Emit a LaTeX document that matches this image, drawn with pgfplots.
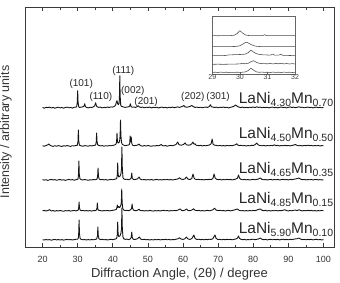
\documentclass[border=0pt]{standalone}
\usepackage{fontspec}
\setmainfont{Liberation Sans}
\usepackage{pgfplots}
\usepackage{pgfplotstable}
\pgfplotsset{compat=1.18}

% XRD patterns, intensity in arbitrary units (each pattern stacked by its offset)
% LaNi4.30Mn0.70
\pgfplotstableread[row sep=\\]{x I\\
20 .2\\20.5 -.5\\21 .4\\21.5 0\\22 .6\\22.5 -.3\\23 .3\\23.5 -.6\\24 .1\\24.5 .5\\25 -.2\\25.5 .3\\26 -.5\\26.5 .2\\27 .6\\27.5 -.1\\28 .3\\28.5 -.4\\29 .4\\29.5 .6\\
29.7 .8\\29.88 5\\30 17\\30.12 5.5\\30.3 1\\30.5 .2\\31 .6\\31.5 .9\\31.8 1.5\\32 4\\32.2 1.2\\32.5 .3\\33 -.2\\33.5 .5\\34 .2\\34.5 .9\\
34.85 1.8\\35.1 5\\35.35 2\\35.5 1\\36 .3\\36.5 .6\\37 -.2\\37.5 .4\\38 .1\\38.5 .7\\39 .2\\39.5 .8\\40 .6\\40.5 1.5\\
40.8 2.5\\41 5.5\\41.2 7\\41.4 4\\41.6 3\\41.8 4.5\\41.9 12\\42 32\\42.1 12\\42.25 3\\42.4 1.5\\43 .8\\43.5 .3\\44 .6\\44.5 .9\\
44.8 1.5\\45 4\\45.2 1.2\\45.5 .4\\46 .7\\46.5 .3\\47 1.2\\47.25 2\\47.5 .9\\48 .3\\48.5 .6\\49 -.1\\49.5 .5\\50 .2\\50.5 .6\\51 -.2\\51.5 .4\\52 .1\\52.5 .5\\53 -.3\\53.5 .3\\
54 .6\\54.5 0\\55 .4\\55.5 -.2\\56 .5\\56.5 .1\\57 .6\\57.5 0\\58 .4\\58.5 .8\\59 .3\\59.5 .9\\60 1.6\\60.25 2.3\\60.5 1\\61 .4\\61.5 .8\\62 1.2\\62.5 2.2\\63 .9\\63.5 .3\\
64 .6\\64.5 .1\\65 .5\\65.5 -.1\\66 .4\\66.5 .7\\67 .3\\67.5 1.2\\67.8 3\\68.1 1\\68.5 .6\\69 .2\\69.5 .6\\70 -.1\\70.5 .5\\71 .2\\71.5 .7\\72 .1\\72.5 .5\\73 -.2\\73.5 .4\\
74 .8\\74.5 1.4\\75 2.8\\75.5 1.2\\76 .5\\76.5 .1\\77 .6\\77.5 -.1\\78 .4\\78.5 0\\79 .5\\79.5 .2\\80 .7\\80.5 .1\\81 .9\\81.5 .3\\82 .6\\82.5 -.1\\83 .4\\83.5 .1\\
84 .5\\84.5 -.2\\85 .3\\85.5 .6\\86 0\\86.5 .4\\87 -.2\\87.5 .3\\88 .7\\88.5 .1\\89 .5\\89.5 -.2\\90 .4\\90.5 .8\\91 .2\\91.5 .6\\92 0\\92.5 .4\\93 .9\\93.5 .3\\
94 .5\\94.5 -.1\\95 .3\\95.5 .6\\96 .1\\96.5 .5\\97 -.2\\97.5 .3\\98 .6\\98.5 0\\99 .4\\99.5 -.1\\100 .3\\
}\tA
% LaNi4.50Mn0.50
\pgfplotstableread[row sep=\\]{x I\\
20 .3\\20.5 -.2\\21 .5\\21.5 1.2\\21.8 2\\22.1 .9\\22.5 .1\\23 -.4\\23.5 .3\\24 -.2\\24.5 .4\\25 0\\25.5 -.5\\26 .3\\26.5 -.1\\27 .5\\27.5 0\\28 -.4\\28.5 .3\\29 .1\\29.5 .5\\
29.9 .7\\30.08 4.5\\30.2 16\\30.32 5\\30.5 .8\\31 .2\\31.5 -.3\\32 .4\\32.5 .1\\33 -.2\\33.5 .4\\34 0\\34.5 .5\\35 .8\\
35.15 1.5\\35.28 4\\35.4 13\\35.52 4.5\\35.7 1.2\\36 .6\\36.5 .1\\37 .4\\37.5 -.2\\38 .3\\38.5 0\\39 .5\\39.5 .2\\40 .6\\40.5 1\\
40.9 1.8\\41.08 4\\41.2 13\\41.32 5\\41.5 3\\41.8 3.5\\41.95 5\\42.08 10\\42.2 26\\42.32 10\\42.5 3.5\\42.7 1.8\\43 1\\43.5 .4\\44 .7\\44.5 1\\
44.8 1.8\\44.95 10\\45.1 4\\45.25 9\\45.4 3\\45.6 1\\46 .3\\46.5 .6\\47 .8\\47.5 2\\47.8 .6\\48 .3\\48.5 -.1\\49 .4\\49.5 0\\50 .5\\50.5 .1\\51 -.3\\51.5 .3\\52 0\\52.5 .5\\
53 .2\\53.5 .9\\53.8 1.6\\54.1 .5\\54.5 .1\\55 .5\\55.5 -.2\\56 .3\\56.5 .6\\57 .2\\57.5 .8\\58 1.5\\58.5 4\\58.8 1.6\\59 1.2\\59.5 .8\\60 1.3\\60.3 2\\60.6 3.2\\60.9 1.3\\
61.5 .8\\62 1\\62.5 2.2\\62.8 4\\63.1 1.8\\63.4 2.3\\63.7 .9\\64 .6\\64.5 .3\\65 .7\\65.5 .1\\66 .5\\66.5 .2\\67 .6\\67.5 1\\68 2.2\\68.3 7\\68.55 2\\68.8 1\\69.5 .6\\
70 .2\\70.5 .6\\71 .1\\71.5 .5\\72 0\\72.5 .6\\73 .2\\73.5 .5\\74 .3\\74.5 .8\\75 1.4\\75.3 2.2\\75.6 1\\76 .4\\76.5 .7\\77 .2\\77.5 .5\\78 0\\78.5 .4\\79 .2\\79.5 .7\\
80 .5\\80.5 1.3\\81 3\\81.3 1.5\\81.6 .8\\82 .5\\82.5 .2\\83 .6\\83.5 .1\\84 .5\\84.5 .2\\85 .6\\85.5 .4\\86 1.1\\86.5 .3\\87 .6\\87.5 .1\\88 .5\\88.5 .2\\89 .7\\89.5 .3\\
90 .5\\90.5 .1\\91 .6\\91.5 .9\\92 1.5\\92.5 .6\\93 .2\\93.5 .5\\94 .1\\94.5 .6\\95 .3\\95.5 .8\\96 .4\\96.5 .6\\97 .1\\97.5 .5\\98 .2\\98.5 .6\\99 0\\99.5 .4\\100 .2\\
}\tB
% LaNi4.65Mn0.35
\pgfplotstableread[row sep=\\]{x I\\
20 .4\\20.5 -.1\\21 .3\\21.5 -.4\\22 .2\\22.5 .6\\23 0\\23.5 .4\\24 -.3\\24.5 .2\\25 .5\\25.5 -.1\\26 .3\\26.5 -.4\\27 .2\\27.5 .6\\28 .1\\28.5 .4\\29 -.2\\29.5 .3\\30 .7\\
30.1 1.2\\30.23 5\\30.35 19\\30.47 5.5\\30.65 1.2\\31 .4\\31.5 0\\32 .5\\32.5 .1\\33 -.3\\33.5 .3\\34 0\\34.5 .5\\35 .2\\35.5 .9\\
35.68 3.5\\35.8 12\\35.92 4\\36.1 1\\36.5 .3\\37 .6\\37.5 .1\\38 .4\\38.5 -.1\\39 .3\\39.5 .6\\40 .2\\40.5 .7\\41 1.2\\
41.15 2\\41.28 5\\41.4 17\\41.52 5.5\\41.7 3\\41.9 3.5\\42.1 4\\42.3 6\\42.48 11\\42.6 33\\42.72 11\\42.9 2.5\\43.1 1.2\\43.5 .5\\44 .8\\44.5 .3\\45 1\\
45.25 2.2\\45.4 7\\45.55 2\\45.8 .8\\46 .4\\46.5 .6\\47 1\\47.5 3\\47.8 1\\48 .6\\48.5 .2\\49 .5\\49.5 0\\50 .4\\50.5 .1\\51 .5\\51.5 -.1\\52 .3\\52.5 .6\\53 .1\\53.5 .4\\
54 0\\54.5 .5\\55 .2\\55.5 .6\\56 .1\\56.5 .5\\57 0\\57.5 .4\\58 .7\\58.5 1\\59 2.2\\59.5 .8\\60 .5\\60.5 1.1\\61 3\\61.3 1.2\\61.7 .7\\62 .5\\62.5 1.5\\62.85 6\\63.15 2\\63.5 .8\\
64 .4\\64.5 .7\\65 .2\\65.5 .5\\66 .1\\66.5 .6\\67 .3\\67.5 .7\\68 .4\\68.5 1.4\\68.85 6\\69.15 2\\69.5 .8\\70 .3\\70.5 .6\\71 .1\\71.5 .5\\72 .2\\72.5 .7\\73 .3\\73.5 .6\\
74 .1\\74.5 .5\\75 .9\\75.5 1.8\\75.8 5\\76.1 1.8\\76.5 .7\\77 .2\\77.5 .6\\78 .1\\78.5 .5\\79 0\\79.5 .4\\80 .7\\80.5 .2\\81 .6\\81.5 1\\82 2\\82.5 .6\\83 .2\\83.5 .5\\
84 0\\84.5 .4\\85 .6\\85.5 .1\\86 .5\\86.5 .2\\87 .6\\87.5 0\\88 .4\\88.5 .7\\89 .2\\89.5 .5\\90 .1\\90.5 .6\\91 .3\\91.5 .7\\92 1\\92.5 1.4\\93 2\\93.5 .8\\
94 .3\\94.5 .6\\95 .1\\95.5 .5\\96 .2\\96.5 .6\\97 0\\97.5 .4\\98 .6\\98.5 .1\\99 .4\\99.5 0\\100 .3\\
}\tC
% LaNi4.85Mn0.15
\pgfplotstableread[row sep=\\]{x I\\
20 .2\\20.5 .6\\21 0\\21.5 .5\\22 1.4\\22.3 .4\\22.5 .1\\23 .5\\23.5 -.2\\24 .4\\24.5 0\\25 .5\\25.5 .1\\26 -.3\\26.5 .4\\27 .1\\27.5 .5\\28 -.1\\28.5 .3\\29 .6\\29.5 .1\\30 .6\\
30.15 1\\30.28 3\\30.4 9\\30.52 3\\30.7 .9\\31 .3\\31.5 .6\\32 .1\\32.5 .5\\33 0\\33.5 .4\\34 -.1\\34.5 .5\\35 .3\\35.3 .9\\
35.48 2.5\\35.6 8\\35.72 2.5\\35.9 .8\\36.5 .4\\37 0\\37.5 .5\\38 .2\\38.5 .6\\39 .1\\39.5 .4\\40 .7\\40.5 1\\41 1.6\\
41.15 3\\41.3 6\\41.45 3.5\\41.7 4.5\\41.85 3.5\\42.1 4\\42.3 6\\42.43 8\\42.55 22\\42.67 8\\42.85 2.5\\43.1 1\\43.5 .4\\44 .7\\44.5 .2\\45 1\\
45.35 2.5\\45.5 7\\45.65 2.5\\45.9 .8\\46.5 .3\\47 .7\\47.5 1.8\\47.8 .6\\48 .2\\48.5 .5\\49 0\\49.5 .4\\50 .1\\50.5 .6\\51 .2\\51.5 -.1\\52 .4\\52.5 .1\\53 .5\\53.5 0\\
54 .4\\54.5 .7\\55 .2\\55.5 .5\\56 0\\56.5 .4\\57 .2\\57.5 .6\\58 .3\\58.5 .8\\59.2 2\\59.6 .6\\60 .3\\60.5 .8\\61 2\\61.4 .6\\62 .4\\62.5 .9\\63 2.2\\63.4 .8\\
64 .3\\64.5 .6\\65 .1\\65.5 .5\\66 0\\66.5 .4\\67 .7\\67.5 .2\\68 .6\\68.5 1.2\\69 2.8\\69.4 1\\70 .4\\70.5 .7\\71 .2\\71.5 .5\\72 0\\72.5 .4\\73 .6\\73.5 .1\\
74 .5\\74.5 .9\\75.5 2\\76 .6\\76.5 .2\\77 .5\\77.5 0\\78 .4\\78.5 .1\\79 .5\\79.5 .2\\80 .6\\80.5 .3\\81 .9\\81.5 1.6\\82 2\\82.5 .7\\83 .3\\83.5 .6\\
84 .1\\84.5 .4\\85 0\\85.5 .5\\86 .2\\86.5 .6\\87 .1\\87.5 .5\\88 .3\\88.5 .8\\89 1.2\\89.5 .4\\90 .1\\90.5 .5\\91 .2\\91.5 .7\\92 .9\\92.5 .4\\93 1.3\\93.5 .5\\
94 .1\\94.5 .5\\95 .2\\95.5 .7\\96 .3\\96.5 .6\\97 .1\\97.5 .5\\98 0\\98.5 .4\\99 .2\\99.5 .6\\100 .2\\
}\tD
% LaNi5.90Mn0.10
\pgfplotstableread[row sep=\\]{x I\\
20 .3\\20.5 0\\21 .5\\21.5 .1\\22 .4\\22.5 -.2\\23 .3\\23.5 .6\\24 .1\\24.5 .5\\25 0\\25.5 .4\\26 -.1\\26.5 .3\\27 .6\\27.5 .2\\28 .5\\28.5 0\\29 .4\\29.5 .7\\30 .9\\
30.15 1.5\\30.28 5.5\\30.4 20\\30.52 6\\30.7 1.5\\31 .6\\31.5 .2\\32 .5\\32.5 0\\33 .4\\33.5 .1\\34 .5\\34.5 .2\\35 .6\\35.4 1\\
35.63 4\\35.75 13\\35.87 4.5\\36.05 1.2\\36.5 .4\\37 .7\\37.5 .2\\38 .5\\38.5 0\\39 .4\\39.5 .7\\40 .3\\40.5 .8\\41 1.3\\
41.15 2.2\\41.28 5.5\\41.4 18\\41.52 6\\41.7 3.5\\41.9 3.8\\42.1 4.5\\42.3 6.5\\42.48 11\\42.6 32\\42.72 11\\42.9 3\\43.1 1.4\\43.5 .6\\44 .9\\44.5 .4\\45 1.1\\
45.25 2.5\\45.4 8\\45.55 2.5\\45.8 .9\\46 .5\\46.5 .7\\47 1.2\\47.6 3\\47.9 1\\48.5 .4\\49 .7\\49.5 .2\\50 .5\\50.5 0\\51 .4\\51.5 .1\\52 .5\\52.5 .2\\53 .6\\53.5 .1\\
54 .5\\54.5 .3\\55 .7\\55.5 .2\\56 .6\\56.5 .1\\57 .5\\57.5 .3\\58 .8\\58.5 1.1\\59 2.2\\59.5 .9\\60 .6\\60.5 1.2\\61 3\\61.3 1.3\\61.7 .8\\62 .6\\62.5 1.4\\63.1 5\\63.4 1.8\\63.8 .7\\
64 .5\\64.5 .8\\65 .3\\65.5 .6\\66 .2\\66.5 .7\\67 .4\\67.5 .8\\68 .5\\68.5 1.3\\69.1 5\\69.4 1.8\\69.8 .7\\70 .4\\70.5 .7\\71 .2\\71.5 .6\\72 .3\\72.5 .7\\73 .4\\73.5 .7\\
74 .2\\74.5 .6\\75 1\\75.5 1.8\\75.8 4\\76.1 1.6\\76.5 .7\\77 .3\\77.5 .6\\78 .1\\78.5 .5\\79 .2\\79.5 .6\\80 .8\\80.5 .3\\81 .7\\81.5 1\\82 2\\82.5 .7\\83 .3\\83.5 .6\\
84 .1\\84.5 .5\\85 .7\\85.5 .2\\86 .6\\86.5 .3\\87 .7\\87.5 .1\\88 .5\\88.5 .8\\89 .3\\89.5 .6\\90 .2\\90.5 .7\\91 .4\\91.5 .8\\92 1.1\\92.5 1.3\\93 2\\93.5 .8\\
94 .4\\94.5 .7\\95 .2\\95.5 .6\\96 .3\\96.5 .7\\97 .1\\97.5 .5\\98 .7\\98.5 .2\\99 .5\\99.5 .1\\100 .4\\
}\tE

% Inset: the (101) reflection between 29 and 32 degrees
\pgfplotstableread[row sep=\\]{x I\\
29 0\\29.1 .1\\29.2 -.1\\29.3 .1\\29.4 0\\29.5 .1\\29.6 0\\29.7 .2\\29.8 .5\\29.9 2.2\\30 5\\30.1 2.6\\30.2 .8\\30.3 .2\\30.4 .1\\30.5 0\\30.6 .1\\30.7 0\\30.8 .1\\
30.85 .4\\30.9 1\\30.95 .3\\31 0\\31.1 .1\\31.2 0\\31.3 .1\\31.4 0\\31.5 .1\\31.6 0\\31.7 .1\\31.8 0\\31.9 .1\\32 0\\
}\iA
\pgfplotstableread[row sep=\\]{x I\\
29 0\\29.2 .1\\29.4 0\\29.6 .1\\29.8 .2\\29.9 .4\\30 1\\30.1 2.5\\30.2 4.2\\30.25 4.4\\30.3 3.8\\30.4 2.2\\30.5 1\\30.6 .4\\30.7 .2\\30.8 .1\\31 0\\31.2 .1\\31.4 0\\31.6 .1\\31.8 0\\32 0\\
}\iB
\pgfplotstableread[row sep=\\]{x I\\
29 0\\29.2 0\\29.4 .1\\29.5 .3\\29.6 .8\\29.8 1\\30 1.2\\30.1 1.3\\30.2 1.6\\30.3 3\\30.4 5.7\\30.5 3.5\\30.6 2\\30.7 1.3\\30.8 1\\30.9 .8\\31 .7\\31.1 .6\\31.2 1.6\\
31.25 .5\\31.4 .5\\31.5 1.6\\31.55 .4\\31.7 .3\\31.8 .2\\32 .1\\
}\iC
\pgfplotstableread[row sep=\\]{x I\\
29 0\\29.2 .1\\29.4 0\\29.6 .1\\29.8 .2\\30 .4\\30.1 1\\30.15 .5\\30.3 1\\30.4 2.5\\30.5 3.6\\30.6 2\\30.7 1\\30.8 .7\\30.9 .6\\31 .5\\31.1 .8\\31.2 .4\\31.3 .9\\
31.4 .5\\31.5 1\\31.6 .4\\31.7 .8\\31.8 .3\\31.9 .7\\32 .3\\
}\iD
\pgfplotstableread[row sep=\\]{x I\\
29 .2\\29.1 .5\\29.2 .2\\29.3 .6\\29.4 .3\\29.5 .5\\29.6 .2\\29.7 .4\\29.8 .3\\29.9 .5\\30 .3\\30.1 .5\\30.2 .8\\30.3 2.2\\30.4 4.4\\30.5 2.5\\30.6 .8\\30.7 .4\\
30.8 .6\\30.9 .3\\31 .5\\31.1 .2\\31.2 .6\\31.3 .3\\31.4 .5\\31.5 .2\\31.6 .6\\31.7 .3\\31.8 .5\\31.9 .2\\32 .4\\
}\iE

\definecolor{frame}{HTML}{3A3A3A}
\definecolor{trace}{HTML}{161616}
\definecolor{insettrace}{HTML}{4A4A4A}

\tikzset{
  pattern line/.style={draw=trace, line width=0.9pt, line join=round, mark=none},
  inset line/.style={draw=insettrace, line width=0.55pt, line join=round, mark=none},
  hkl/.style={font=\fontsize{10}{12}\selectfont, text=black!85, inner sep=0pt},
  alloy/.style={font=\fontsize{15.5}{18}\selectfont, text=black!85, inner sep=0pt, anchor=base east},
}
\newcommand{\sub}[1]{\raisebox{-3.5pt}{\fontsize{10.5}{12}\selectfont #1}}

\begin{document}
\begin{tikzpicture}
\begin{axis}[
  scale only axis, width=309pt, height=240pt,
  xmin=15, xmax=103, ymin=0, ymax=240,
  clip=false,
  axis line style={draw=frame, line width=0.65pt},
  xtick={20,30,...,100}, minor x tick num=1,
  ytick=\empty,
  tick align=inside, xtick pos=both, xticklabel pos=bottom,
  major tick length=4pt, minor tick length=2.5pt,
  every tick/.style={draw=frame, line width=0.65pt},
  /pgf/number format/assume math mode=true,
  xticklabel style={font=\fontsize{9}{11}\selectfont, text=black!80, anchor=base, yshift=-15pt},
  xlabel={Diffraction Angle, (2θ) / degree},
  xlabel style={font=\fontsize{13}{15}\selectfont, text=black!80, at={(rel axis cs:0.5,-0.125)}, anchor=base},
  ylabel={Intensity / arbitrary units},
  ylabel style={font=\fontsize{12.5}{15}\selectfont, text=black!80, at={(rel axis cs:-0.0515,0.479)}, anchor=base},
]
\addplot[pattern line] table[x=x, y expr=\thisrow{I}+139.3] {\tA};
\addplot[pattern line] table[x=x, y expr=\thisrow{I}+101] {\tB};
\addplot[pattern line] table[x=x, y expr=\thisrow{I}+67] {\tC};
\addplot[pattern line] table[x=x, y expr=\thisrow{I}+36] {\tD};
\addplot[pattern line] table[x=x, y expr=\thisrow{I}+7] {\tE};

% Miller indices of the reflections
\node[hkl] at (axis cs:31.0,162.7) {(101)};
\node[hkl] at (axis cs:36.6,149.7) {(110)};
\node[hkl] at (axis cs:43.0,176) {(111)};
\node[hkl] at (axis cs:45.7,156) {(002)};
\node[hkl] at (axis cs:49.5,145.3) {(201)};
\node[hkl] at (axis cs:62.8,150) {(202)};
\node[hkl] at (axis cs:70.0,150) {(301)};

% Alloy compositions
\node[alloy] at (axis cs:102.8,144) {LaNi\sub{4.30}Mn\sub{0.70}};
\node[alloy] at (axis cs:102.8,109) {LaNi\sub{4.50}Mn\sub{0.50}};
\node[alloy] at (axis cs:102.8,74) {LaNi\sub{4.65}Mn\sub{0.35}};
\node[alloy] at (axis cs:102.8,44) {LaNi\sub{4.85}Mn\sub{0.15}};
\node[alloy] at (axis cs:102.8,14) {LaNi\sub{5.90}Mn\sub{0.10}};

\coordinate (insetSW) at (axis cs:68.35,173);
\coordinate (SW) at (rel axis cs:0,0);
\coordinate (NE) at (rel axis cs:1,1);
\end{axis}

\begin{axis}[
  at={(insetSW)}, anchor=south west,
  scale only axis, width=82.7pt, height=57.3pt,
  xmin=29, xmax=32, ymin=0, ymax=57.3,
  axis line style={draw=black!60, line width=0.5pt},
  xtick={29,30,31,32}, ytick=\empty,
  tick align=inside, xtick pos=bottom,
  major tick length=2pt,
  every tick/.style={draw=black!60, line width=0.5pt},
  /pgf/number format/assume math mode=true,
  xticklabel style={font=\fontsize{7}{8}\selectfont, text=black!75, inner sep=0.5pt},
]
\addplot[inset line] table[x=x, y expr=\thisrow{I}+38.3] {\iA};
\addplot[inset line] table[x=x, y expr=\thisrow{I}+27.3] {\iB};
\addplot[inset line] table[x=x, y expr=\thisrow{I}+18.3] {\iC};
\addplot[inset line] table[x=x, y expr=\thisrow{I}+9.7] {\iD};
\addplot[inset line] table[x=x, y expr=\thisrow{I}+1.3] {\iE};
\end{axis}

\pgfresetboundingbox
\path[use as bounding box] ([xshift=-25pt,yshift=-35pt]SW) rectangle ([xshift=6pt,yshift=7pt]NE);
\end{tikzpicture}
\end{document}
